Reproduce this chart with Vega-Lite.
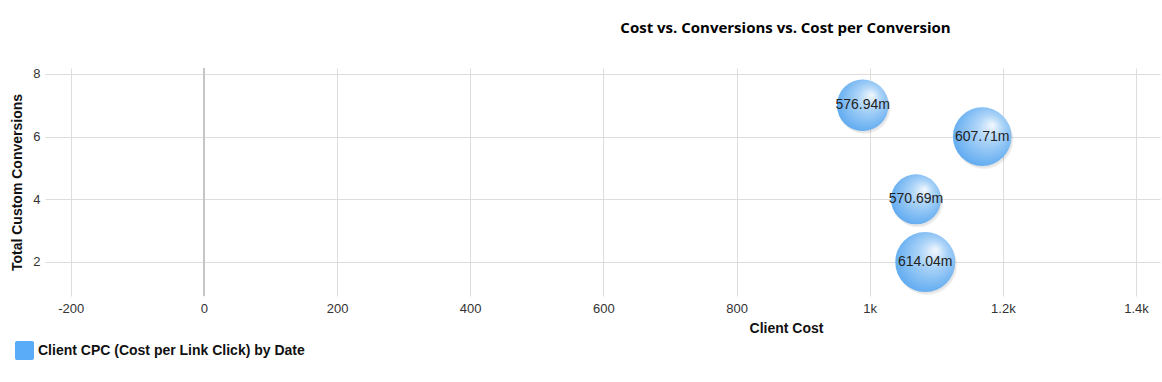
{
  "$schema": "https://vega.github.io/schema/vega-lite/v6.json",
  "width": 1115,
  "height": 228,
  "autosize": {"type": "none"},
  "padding": {"left": 45, "top": 68, "right": 2, "bottom": 86},
  "background": "white",
  "title": {
    "text": "Cost vs. Conversions vs. Cost per Conversion",
    "font": "Open Sans",
    "fontSize": 15,
    "fontWeight": "bold",
    "color": "#000000",
    "anchor": "middle",
    "dx": 183,
    "offset": 32
  },
  "data": {
    "values": [
      {"cost": 989.5, "conversions": 7, "cpc": 0.57694, "series": "Client CPC (Cost per Link Click) by Date"},
      {"cost": 1169, "conversions": 6, "cpc": 0.60771, "series": "Client CPC (Cost per Link Click) by Date"},
      {"cost": 1069.5, "conversions": 4, "cpc": 0.57069, "series": "Client CPC (Cost per Link Click) by Date"},
      {"cost": 1083.4, "conversions": 2, "cpc": 0.61404, "series": "Client CPC (Cost per Link Click) by Date"}
    ]
  },
  "encoding": {
    "x": {
      "field": "cost", "type": "quantitative",
      "scale": {"domain": [-238.6, 1436], "nice": false, "zero": false},
      "axis": {
        "values": [-200, 0, 200, 400, 600, 800, 1000, 1200, 1400],
        "labelExpr": "datum.value >= 1000 ? format(datum.value/1000, '~g') + 'k' : '' + datum.value",
        "title": "Client Cost",
        "titleX": 741,
        "titlePadding": 6,
        "domain": false, "ticks": false,
        "labelPadding": 6
      }
    },
    "y": {
      "field": "conversions", "type": "quantitative",
      "scale": {"domain": [0.915, 8.19], "nice": false, "zero": false},
      "axis": {
        "values": [2, 4, 6, 8],
        "title": "Total Custom Conversions",
        "domain": false, "ticks": false,
        "labelPadding": 5,
        "titlePadding": 8
      }
    }
  },
  "layer": [
    {
      "mark": {"type": "rule", "color": "#c4c4c4", "strokeWidth": 1},
      "encoding": {"x": {"datum": 0}, "y": null}
    },
    {
      "mark": {"type": "point", "filled": true, "opacity": 0, "shape": "circle"},
      "encoding": {
        "color": {
          "field": "series", "type": "nominal",
          "scale": {"range": ["#5aabf8"]},
          "legend": {
            "title": null,
            "orient": "none",
            "legendX": -30,
            "legendY": 273,
            "symbolType": "M-0.8,-1H0.8Q1,-1 1,-0.8V0.8Q1,1 0.8,1H-0.8Q-1,1 -1,0.8V-0.8Q-1,-1 -0.8,-1Z",
            "symbolSize": 361,
            "symbolOpacity": 1,
            "symbolStrokeWidth": 0,
            "labelFont": "Liberation Sans",
            "labelFontSize": 14,
            "labelFontWeight": "bold",
            "labelColor": "#111111",
            "labelLimit": 500
          }
        }
      }
    },
    {
      "mark": {"type": "point", "filled": true, "shape": "circle", "color": "#000000", "opacity": 0.05, "xOffset": 2, "yOffset": 3},
      "encoding": {
        "size": {"field": "cpc", "type": "quantitative", "scale": {"domain": [0.57069, 0.61404], "range": [2500, 3600], "zero": false}, "legend": null}
      }
    },
    {
      "mark": {"type": "point", "filled": true, "shape": "circle", "color": "#000000", "opacity": 0.05, "xOffset": 1, "yOffset": 2},
      "encoding": {
        "size": {"field": "cpc", "type": "quantitative", "scale": {"domain": [0.57069, 0.61404], "range": [2200, 3250], "zero": false}, "legend": null}
      }
    },
    {
      "mark": {
        "type": "point", "filled": true, "shape": "circle", "opacity": 1,
        "fill": {
          "gradient": "radial",
          "x1": 0.68, "y1": 0.3, "r1": 0,
          "x2": 0.55, "y2": 0.45, "r2": 0.6,
          "stops": [
            {"offset": 0, "color": "#f2f8fe"},
            {"offset": 0.35, "color": "#b0d6f8"},
            {"offset": 1, "color": "#5ca9f0"}
          ]
        }
      },
      "encoding": {
        "size": {"field": "cpc", "type": "quantitative", "scale": {"domain": [0.57069, 0.61404], "range": [1963, 2922], "zero": false}, "legend": null}
      }
    },
    {
      "mark": {"type": "text", "font": "Liberation Sans", "fontSize": 14, "color": "#222222"},
      "encoding": {
        "text": {"field": "cpc", "type": "quantitative", "format": ".5s"}
      }
    }
  ],
  "config": {
    "view": {"stroke": null},
    "axis": {
      "labelFont": "Liberation Sans",
      "labelFontSize": 13,
      "labelColor": "#333333",
      "titleFont": "Liberation Sans",
      "titleFontSize": 14,
      "titleFontWeight": "bold",
      "titleColor": "#111111",
      "gridColor": "#dddddd",
      "gridWidth": 1
    }
  }
}
